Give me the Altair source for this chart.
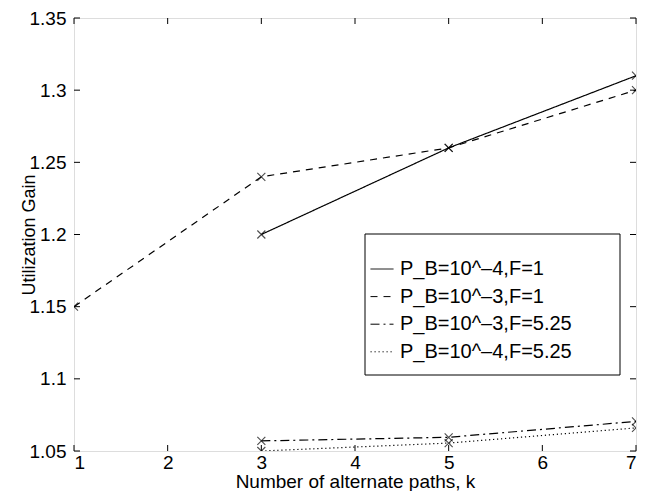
import altair as alt
import pandas as pd

series_names = ["P_B=10^–4,F=1", "P_B=10^–3,F=1", "P_B=10^–3,F=5.25", "P_B=10^–4,F=5.25"]
k_s1 = [3, 5, 7]
v_s1 = [1.200, 1.260, 1.310]
k_s2 = [1, 3, 5, 7]
v_s2 = [1.150, 1.240, 1.260, 1.300]
k_s3 = [3, 5, 7]
v_s3 = [1.057, 1.0595, 1.0705]
k_s4 = [3, 5, 7]
v_s4 = [1.050, 1.0555, 1.066]

x_ticks = [1, 2, 3, 4, 5, 6, 7]
y_ticks = [1.05, 1.1, 1.15, 1.2, 1.25, 1.3, 1.35]

rows = []
for name, ks, vs in zip(series_names, [k_s1, k_s2, k_s3, k_s4], [v_s1, v_s2, v_s3, v_s4]):
    for k, v in zip(ks, vs):
        rows.append({"series": name, "k": k, "gain": v})
df = pd.DataFrame(rows)

W, H = 562, 433
FONT = "Liberation Sans"

xs = alt.Scale(domain=[1, 7], nice=False, zero=False)
ys = alt.Scale(domain=[1.05, 1.35], nice=False, zero=False)

x_axis = alt.Axis(values=x_ticks, ticks=False, domain=False, grid=False, labelFont=FONT,
                  labelFontSize=19, labelPadding=2, labelColor="black", format="d",
                  title="Number of alternate paths, k", titleFont=FONT, titleFontSize=19,
                  titleFontWeight="normal", titleColor="black", titlePadding=0)
y_axis = alt.Axis(values=y_ticks, ticks=False, domain=False, grid=False, labelFont=FONT,
                  labelFontSize=19, labelPadding=8, labelColor="black", format="~g",
                  title="Utilization Gain", titleFont=FONT, titleFontSize=18,
                  titleFontWeight="normal", titleColor="black", titlePadding=-9)

# legend frame (white box with black border)
frame = alt.Chart(pd.DataFrame({"f": [0]})).mark_rect(
    fill="white", stroke="black", strokeWidth=1
).encode(x=alt.value(291), x2=alt.value(546), y=alt.value(216), y2=alt.value(357))

lines = alt.Chart(df).mark_line(color="black", strokeWidth=1.2, clip=True).encode(
    x=alt.X("k:Q", scale=xs, axis=x_axis),
    y=alt.Y("gain:Q", scale=ys, axis=y_axis),
    strokeDash=alt.StrokeDash(
        "series:N",
        scale=alt.Scale(domain=series_names, range=[[1, 0], [7, 6], [9, 4, 2, 4], [1.2, 2.8]]),
        legend=alt.Legend(
            title=None, orient="none", legendX=289, legendY=225,
            padding=14,
            labelFont=FONT, labelFontSize=20, labelColor="black",
            symbolType="stroke", symbolSize=529, symbolStrokeColor="black",
            symbolStrokeWidth=1, rowPadding=5.6, labelOffset=6, labelLimit=400,
            symbolOffset=-7,
        ),
    ),
    detail="series:N",
)

points = alt.Chart(df).mark_point(
    shape="M-1,-1L1,1M1,-1L-1,1", size=64, color="black", strokeWidth=1.1, filled=False, clip=True
).encode(
    x=alt.X("k:Q", scale=xs),
    y=alt.Y("gain:Q", scale=ys),
    detail="series:N",
)

xt = pd.DataFrame({"t": x_ticks})
yt = pd.DataFrame({"t": y_ticks})
L = 6
tick_b = alt.Chart(xt).mark_rule(color="black", strokeWidth=1).encode(
    x=alt.X("t:Q", scale=xs), y=alt.value(H), y2=alt.value(H - L))
tick_t = alt.Chart(xt).mark_rule(color="black", strokeWidth=1).encode(
    x=alt.X("t:Q", scale=xs), y=alt.value(0), y2=alt.value(L))
tick_l = alt.Chart(yt).mark_rule(color="black", strokeWidth=1).encode(
    y=alt.Y("t:Q", scale=ys), x=alt.value(0), x2=alt.value(L))
tick_r = alt.Chart(yt).mark_rule(color="black", strokeWidth=1).encode(
    y=alt.Y("t:Q", scale=ys), x=alt.value(W), x2=alt.value(W - L))

chart = alt.layer(lines, points, tick_b, tick_t, tick_l, tick_r, frame).properties(
    width=W, height=H,
    autosize=alt.AutoSizeParams(type="none"),
    padding={"left": 66, "top": 10, "right": 5, "bottom": 40},
).configure_view(stroke="black", strokeWidth=1).configure(background="white")

chart.save("out.html", embed_options={"renderer": "svg", "actions": False})
